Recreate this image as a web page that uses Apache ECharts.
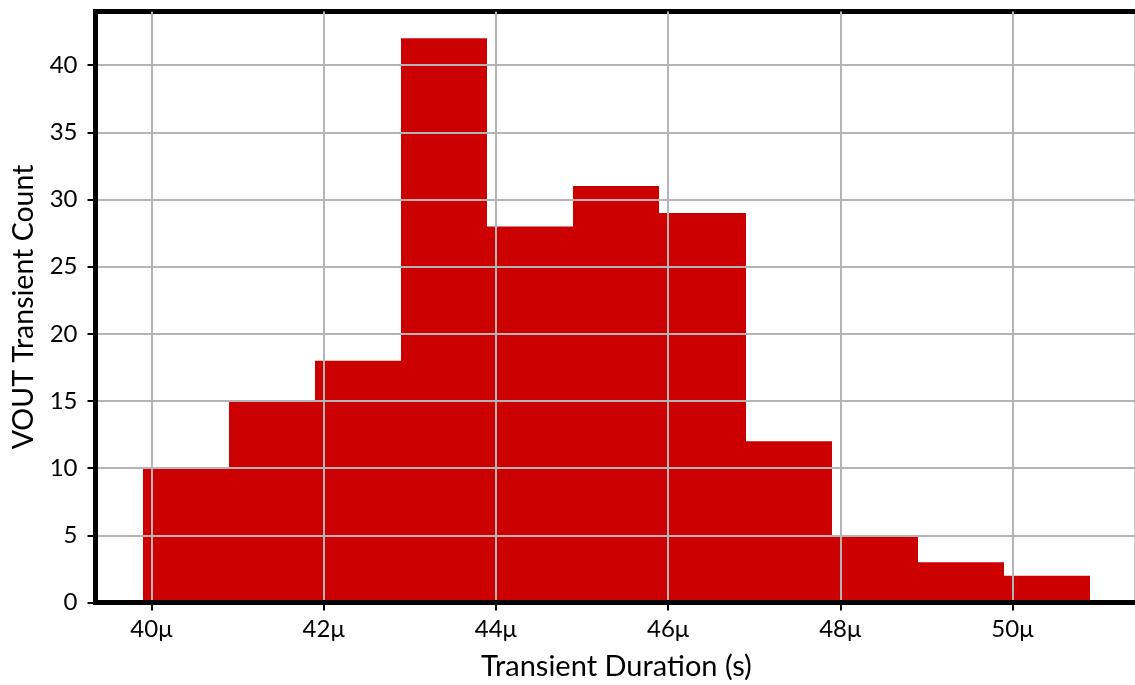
<!DOCTYPE html>
<html>
<head>
<meta charset="utf-8">
<script src="https://cdn.jsdelivr.net/npm/echarts@6/dist/echarts.min.js"></script>
<style>
  html, body { margin: 0; padding: 0; background: #fff; }
  #chart { width: 1135px; height: 685px; }
</style>
</head>
<body>
<div id="chart"></div>
<script>
// Histogram of VOUT transient durations (microseconds)
const binLow   = [39.9, 40.9, 41.9, 42.9, 43.9, 44.9, 45.9, 46.9, 47.9, 48.9, 49.9];
const binHigh  = [40.9, 41.9, 42.9, 43.9, 44.9, 45.9, 46.9, 47.9, 48.9, 49.9, 50.9];
const counts   = [10, 15, 18, 42, 28, 31, 29, 12, 5, 3, 2];
const xTicks   = [40, 42, 44, 46, 48, 50];
const yTicks   = [0, 5, 10, 15, 20, 25, 30, 35, 40];

const FONT = 'Lato';
const bars = binLow.map((lo, i) => [lo, binHigh[i], counts[i]]);

const chart = echarts.init(document.getElementById('chart'), null, { renderer: 'canvas' });
chart.setOption({
  animation: false,
  backgroundColor: '#ffffff',
  grid: {
    left: 95.5, top: 11.5, right: -2.3, bottom: 82.5,
    outerBoundsMode: 'none', containLabel: false,
    show: true, borderColor: '#000', borderWidth: 5, backgroundColor: 'transparent'
  },
  xAxis: {
    type: 'value',
    min: 39.35, max: 51.45,
    z: 3,
    name: 'Transient Duration (s)',
    nameLocation: 'middle',
    nameGap: 50,
    nameTextStyle: { fontFamily: FONT, fontSize: 29, color: '#000' },
    axisLine: { show: true, onZero: false, lineStyle: { color: '#000', width: 5 } },
    axisTick: { show: true, length: 8, customValues: xTicks, lineStyle: { color: '#000', width: 2 } },
    axisLabel: {
      customValues: xTicks, margin: 15,
      fontFamily: FONT, fontSize: 24, color: '#000',
      formatter: v => v + 'μ'
    },
    splitLine: { show: true, lineStyle: { color: '#b4b4b4', width: 2 } }
  },
  yAxis: {
    type: 'value',
    min: 0, max: 44,
    z: 3,
    name: 'VOUT Transient Count',
    nameLocation: 'middle',
    nameGap: 56,
    nameTextStyle: { fontFamily: FONT, fontSize: 28.5, color: '#000' },
    axisLine: { show: true, lineStyle: { color: '#000', width: 5 } },
    axisTick: { show: true, length: 8, customValues: yTicks, lineStyle: { color: '#000', width: 2 } },
    axisLabel: { customValues: yTicks, margin: 18, fontFamily: FONT, fontSize: 24, color: '#000' },
    splitLine: { show: true, lineStyle: { color: '#b4b4b4', width: 2 } }
  },
  series: [{
    type: 'custom',
    z: 2,
    data: bars,
    encode: { x: [0, 1], y: 2 },
    renderItem: (params, api) => {
      const p0 = api.coord([api.value(0), api.value(2)]);
      const p1 = api.coord([api.value(1), 0]);
      const x0 = Math.round(p0[0]);
      const x1 = Math.round(p1[0]);
      return {
        type: 'rect',
        shape: { x: x0, y: p0[1], width: x1 - x0, height: p1[1] - p0[1] },
        style: { fill: '#cc0000' }
      };
    }
  }]
});
</script>
</body>
</html>
